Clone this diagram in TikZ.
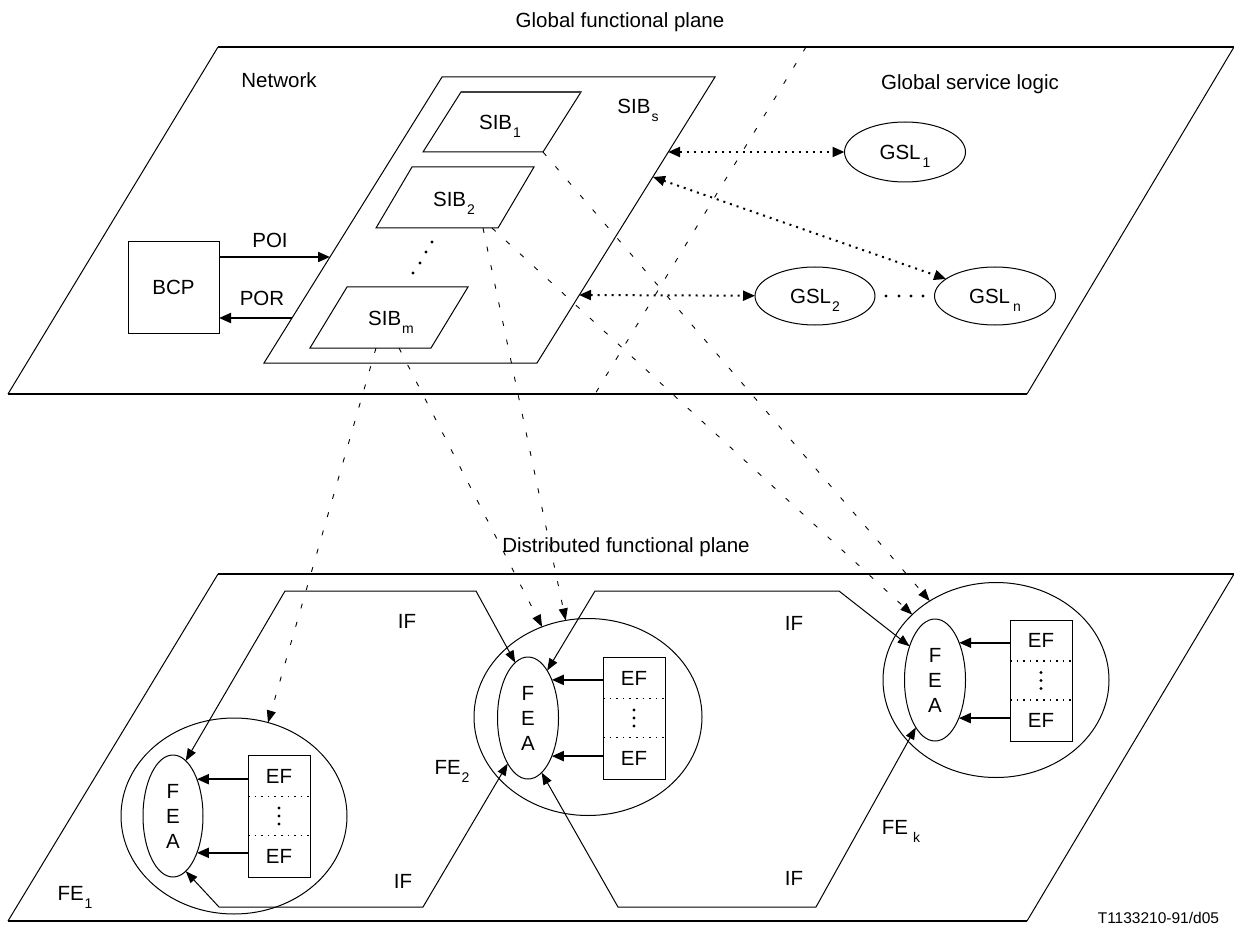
\documentclass[tikz,border=0pt]{standalone}
\usepackage{fontspec}
\setmainfont{Liberation Sans}
\usetikzlibrary{arrows.meta,shapes.geometric,calc}
\newcommand\mysub[2][1pt]{\hspace{#1}\raisebox{-8pt}{\fontsize{14}{14}\selectfont #2}}
\begin{document}
\begin{tikzpicture}[x=1pt,y=-1pt,
  every node/.style={inner sep=0pt, outer sep=0pt, font=\fontsize{20.5}{24.6}\selectfont},
  lbl/.style={text height=14.7pt, text depth=0pt},
  thinl/.style={line width=1pt},
  planeedge/.style={line width=2.6pt},
  fatarr/.style={line width=2pt, -{Triangle[length=12pt,width=10pt]}},
  gslarr/.style={line width=2pt, dash pattern=on 2pt off 5pt, {Triangle[length=12pt,width=10pt]}-{Triangle[length=12pt,width=10pt]}},
  dasharr/.style={line width=0.9pt, dash pattern=on 5pt off 14pt, -{Triangle[length=12pt,width=9pt]}},
  dashln/.style={line width=0.9pt, dash pattern=on 5pt off 14pt},
  ifarr/.style={line width=1pt, {Triangle[length=12pt,width=9pt]}-{Triangle[length=12pt,width=9pt]}},
  dotln/.style={line width=1.6pt, dash pattern=on 1.6pt off 5pt},
  ellip/.style={ellipse, draw, line width=1pt},
  efbox/.style={rectangle, draw, line width=1pt},
  dotmark/.style={circle, fill, minimum size=3.2pt},
]
\useasboundingbox (0,0) rectangle (1234,925);

% titles
\node[lbl] (titleG) at (620,20) {Global functional plane};
\node[lbl] (titleD) at (626,545) {Distributed functional plane};

% global functional plane
\coordinate (gp1) at (218,47);
\coordinate (gp2) at (1234,47);
\coordinate (gp3) at (1027,394);
\coordinate (gp4) at (8,394);
\draw[thinl] (gp1) -- (gp4);
\draw[thinl] (gp2) -- (gp3);
\draw[planeedge] (gp1) -- (gp2);
\draw[planeedge] (gp4) -- (gp3);

% distributed functional plane
\coordinate (dp1) at (218,574);
\coordinate (dp2) at (1234,574);
\coordinate (dp3) at (1027,921);
\coordinate (dp4) at (8,921);
\draw[thinl] (dp1) -- (dp4);
\draw[thinl] (dp2) -- (dp3);
\draw[planeedge] (dp1) -- (dp2);
\draw[planeedge] (dp4) -- (dp3);

% dashed divider
\coordinate (dg1) at (806,47);
\coordinate (dg2) at (595,394);
\draw[dashln] (dg1) -- (dg2);

\node[lbl] (network) at (279,80) {Network};
\node[lbl] (gsltitle) at (970,82.5) {Global service logic};

% SIBs
\draw[thinl] (442,77) -- (715,77) -- (537,363) -- (264,363) -- cycle;
\node[lbl] (sibs) at (638,106) {SIB\mysub{s}};
\draw[thinl] (461,92) -- (581,92) -- (543,152) -- (423,152) -- cycle;
\draw[line width=1.6pt, draw=black!75] (461,92) -- (581,92);
\node[lbl] (sib1) at (500,122) {SIB\mysub{1}};
\draw[thinl] (412,167) -- (534,167) -- (498,228) -- (376,228) -- cycle;
\node[lbl] (sib2) at (454,199) {SIB\mysub{2}};
\draw[thinl] (347,287) -- (468,287) -- (431,348) -- (310,348) -- cycle;
\node[lbl] (sibm) at (391,318) {SIB\mysub{m}};
\node[dotmark] (sd1) at (432,242) {};
\node[dotmark] (sd2) at (426,252) {};
\node[dotmark] (sd3) at (420,263) {};
\node[dotmark] (sd4) at (413,273) {};

% BCP
\node[efbox, lbl, minimum width=91pt, minimum height=91pt] (bcp) at (173.5,287.5) {BCP};
\coordinate (poiend) at (330,257);
\coordinate (porstart) at (292,318);
\draw[fatarr] (bcp.east |- poiend) -- (poiend);
\draw[fatarr] (porstart) -- (bcp.east |- porstart);
\node[lbl] (poi) at (270,240) {POI};
\node[lbl] (por) at (262,298) {POR};

% GSL
\node[ellip, lbl, minimum width=121pt, minimum height=60pt] (gsl1) at (905,152) {GSL\mysub[2pt]{1}};
\node[ellip, lbl, minimum width=120pt, minimum height=58pt] (gsl2) at (815,296) {GSL\mysub{2}};
\node[ellip, lbl, minimum width=121pt, minimum height=58pt] (gsln) at (995,296) {GSL\mysub[3pt]{n}};
\coordinate (sr1) at (668,152);
\coordinate (sr2) at (653,177);
\coordinate (sr3) at (579,295);
\draw[gslarr] (sr1) -- (gsl1);
\draw[gslarr] (sr2) -- (gsln);
\draw[gslarr] (sr3) -- (gsl2);
\node[dotmark] (gd1) at (886,296) {};
\node[dotmark] (gd2) at (899,296) {};
\node[dotmark] (gd3) at (911,296) {};
\node[dotmark] (gd4) at (923,296) {};

% FEs
\node[ellip, minimum width=226pt, minimum height=196pt] (fe1c) at (234,816) {};
\node[ellip, minimum width=228pt, minimum height=197pt] (fe2c) at (588,717) {};
\node[ellip, minimum width=226pt, minimum height=195pt] (fekc) at (996,680) {};

\node[ellip, minimum width=60pt, minimum height=122pt, align=center, font=\fontsize{20.5}{25}\selectfont] (fea1) at (173,816) {F\\E\\A};
\node[ellip, minimum width=61pt, minimum height=122pt, align=center, font=\fontsize{20.5}{25}\selectfont] (fea2) at (528,718) {F\\E\\A};
\node[ellip, minimum width=61pt, minimum height=122pt, align=center, font=\fontsize{20.5}{25}\selectfont] (feak) at (935,680) {F\\E\\A};

\node[efbox, minimum width=62pt, minimum height=122pt] (ef1) at (279,816) {};
\node[efbox, minimum width=62pt, minimum height=122pt] (ef2) at (634,718) {};
\node[efbox, minimum width=62pt, minimum height=121pt] (efk) at (1041,680.5) {};

\foreach \b in {ef1,ef2,efk}{
  \draw[dotln] ([yshift=19.5pt]\b.west) -- ([yshift=19.5pt]\b.east);
  \draw[dotln] ([yshift=-19.5pt]\b.west) -- ([yshift=-19.5pt]\b.east);
  \node[lbl] (\b-t) at ([yshift=40pt]\b.center) {EF};
  \node[lbl] (\b-b) at ([yshift=-40pt]\b.center) {EF};
  \node[dotmark] (\b-d1) at ([yshift=8pt]\b.center) {};
  \node[dotmark] (\b-d2) at (\b.center) {};
  \node[dotmark] (\b-d3) at ([yshift=-8pt]\b.center) {};
}

\draw[fatarr] (fea1.57 -| ef1.west) -- (fea1.57);
\draw[fatarr] (fea1.303 -| ef1.west) -- (fea1.303);
\draw[fatarr] (fea2.58 -| ef2.west) -- (fea2.58);
\draw[fatarr] (fea2.302 -| ef2.west) -- (fea2.302);
\draw[fatarr] (feak.57 -| efk.west) -- (feak.57);
\draw[fatarr] (feak.302 -| efk.west) -- (feak.302);

% IF connections
\coordinate (h1a) at (285,591);
\coordinate (h1b) at (476,591);
\coordinate (h1c) at (219,907);
\coordinate (h1d) at (423,907);
\coordinate (h2a) at (595,591);
\coordinate (h2b) at (839,591);
\coordinate (h2c) at (618,907);
\coordinate (h2d) at (816,907);
\draw[ifarr] (fea1.77) -- (h1a) -- (h1b) -- (fea2.103);
\draw[ifarr] (fea1.283) -- (h1c) -- (h1d) -- (fea2.246);
\draw[ifarr] (fea2.68) -- (h2a) -- (h2b) -- (feak.127);
\draw[ifarr] (fea2.284) -- (h2c) -- (h2d) -- (feak.248);

% SIB to FE mappings
\coordinate (m1) at (376,348);
\coordinate (m2) at (399,348);
\coordinate (s2a) at (483,228);
\coordinate (s2b) at (492,228);
\coordinate (s1b) at (543,152);
\draw[dasharr] (m1) -- (fe1c.70);
\draw[dasharr] (m2) -- (fe2c.117);
\draw[dasharr] (s2a) -- (fe2c.103);
\draw[dasharr] (s2b) -- (fekc.142);
\draw[dasharr] (s1b) -- (fekc.130);

% labels
\node[lbl] (if1) at (407,621) {IF};
\node[lbl] (if2) at (403,881) {IF};
\node[lbl] (if3) at (794,623) {IF};
\node[lbl] (if4) at (794,878) {IF};
\node[lbl] (fe1) at (75,893) {FE\mysub{1}};
\node[lbl] (fe2) at (452,767) {FE\mysub{2}};
\node[lbl] (fek) at (901,827) {FE\mysub[5pt]{k}};
\node[font=\fontsize{15.5}{18}\selectfont, anchor=base east] (ref) at (1219,923) {T1133210-91/d05};
\end{tikzpicture}
\end{document}
